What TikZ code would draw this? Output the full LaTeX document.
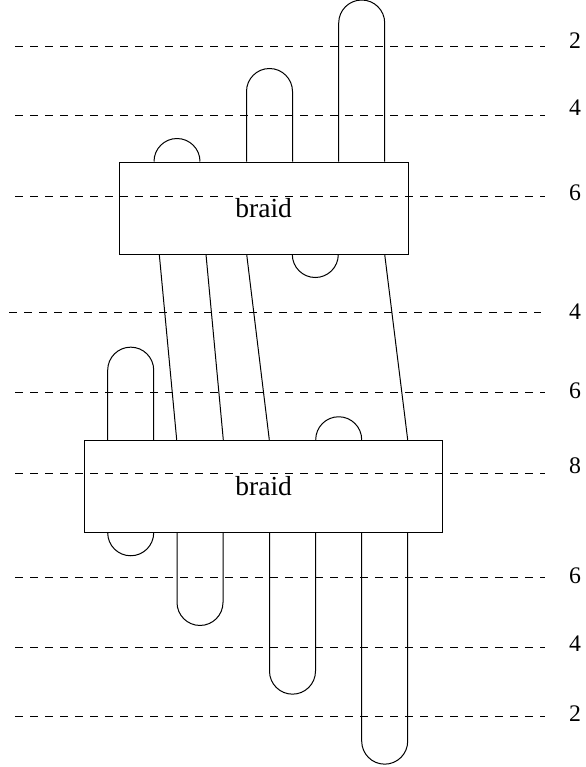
\documentclass[tikz,border=0pt]{standalone}
\usepackage{fontspec}
\setmainfont{Liberation Serif}
\usetikzlibrary{positioning}

\begin{document}
\begin{tikzpicture}[
  x=0.4pt,y=0.4pt,
  box/.style={draw,minimum height=36.8pt,inner sep=0pt,font=\fontsize{11}{13}\selectfont},
  level/.style={dashed},
  count/.style={font=\fontsize{9.5}{11}\selectfont}
]
  \useasboundingbox (0,0) rectangle (586,-767);

  % levels and strand counts
  \draw[level] (15,-46.7) -- (545,-46.7);
  \node[count] (c1) at (575,-41) {2};
  \draw[level] (15,-115.7) -- (545,-115.7);
  \node[count] (c2) at (575,-108) {4};
  \draw[level] (15,-196.7) -- (545,-196.7);
  \node[count] (c3) at (575,-193) {6};
  \draw[level] (9,-312.3) -- (541,-312.3);
  \node[count] (c4) at (575,-312) {4};
  \draw[level] (15,-392.7) -- (545,-392.7);
  \node[count] (c5) at (575,-391) {6};
  \draw[level] (15,-473.3) -- (545,-473.3);
  \node[count] (c6) at (575,-466) {8};
  \draw[level] (15,-577.7) -- (545,-577.7);
  \node[count] (c7) at (575,-576) {6};
  \draw[level] (15,-647.3) -- (545,-647.3);
  \node[count] (c8) at (575,-644) {4};
  \draw[level] (15,-716.7) -- (545,-716.7);
  \node[count] (c9) at (575,-714) {2};

  % the two braid boxes
  \node[box,minimum width=115.5pt] (top) at (263.7,-208) {braid};
  \node[box,minimum width=143.2pt,below=74.1pt of top] (bottom) {braid};

  % caps on the upper box
  \draw (154,0 |- top.north) arc (180:0:23);
  \draw (246.5,0 |- top.north) -- ++(0,70) arc (180:0:23) -- ++(0,-70);
  \draw (338.7,0 |- top.north) -- ++(0,138.5) arc (180:0:23) -- ++(0,-138.5);
  % cup under the upper box
  \draw (292.3,0 |- top.south) arc (180:360:23);

  % strands from box to box
  \draw (159.3,0 |- top.south) -- (176.7,0 |- bottom.north);
  \draw (206,0 |- top.south) -- (223.3,0 |- bottom.north);
  \draw (246.7,0 |- top.south) -- (269.3,0 |- bottom.north);
  \draw (384.7,0 |- top.south) -- (407.7,0 |- bottom.north);

  % caps on the lower box
  \draw (107.7,0 |- bottom.north) -- ++(0,69.6) arc (180:0:23) -- ++(0,-69.6);
  \draw (315.7,0 |- bottom.north) arc (180:0:23);

  % cups under the lower box
  \draw (107.7,0 |- bottom.south) arc (180:360:23);
  \draw (177,0 |- bottom.south) -- ++(0,-69.7) arc (180:360:23) -- ++(0,69.7);
  \draw (269.5,0 |- bottom.south) -- ++(0,-138.4) arc (180:360:23) -- ++(0,138.4);
  \draw (361.7,0 |- bottom.south) -- ++(0,-208.4) arc (180:360:23) -- ++(0,208.4);
\end{tikzpicture}
\end{document}
